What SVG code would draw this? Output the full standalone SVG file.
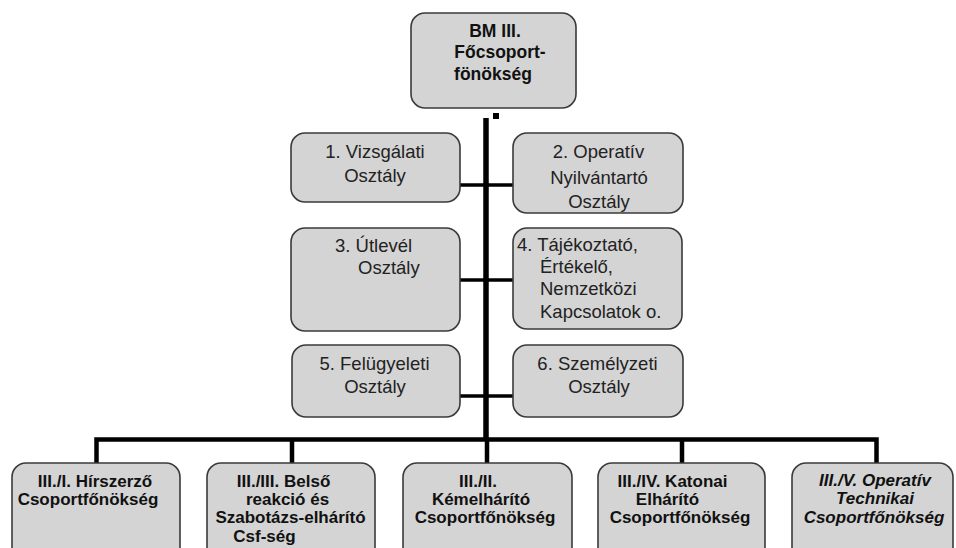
<svg xmlns="http://www.w3.org/2000/svg" width="956" height="548" viewBox="0 0 956 548">
<style>
.box{fill:#d4d4d4;stroke:#3a3a3a;stroke-width:1.6}
.t{font-family:"Liberation Sans",Arial,sans-serif;font-size:18.5px;fill:#222}
.b{font-family:"Liberation Sans",Arial,sans-serif;font-size:17px;font-weight:bold;fill:#111}
.c{text-anchor:middle}
.ln{stroke:#000;fill:none}
</style>
<rect width="956" height="548" fill="#fff"/>
<g id="connectors">
<rect x="493" y="113" width="6" height="6" fill="#000"/>
<line class="ln" x1="486" y1="118" x2="486" y2="440" stroke-width="5.5"/>
<line class="ln" x1="460" y1="185" x2="513" y2="185" stroke-width="3.5"/>
<line class="ln" x1="460" y1="280" x2="513" y2="280" stroke-width="3.5"/>
<line class="ln" x1="460" y1="396" x2="513" y2="396" stroke-width="3.5"/>
<polyline class="ln" points="96.5,464 96.5,439.5 876.5,439.5 876.5,464" stroke-width="4.5"/>
<line class="ln" x1="292" y1="439" x2="292" y2="465" stroke-width="4.5"/>
<line class="ln" x1="487" y1="439" x2="487" y2="465" stroke-width="4.5"/>
<line class="ln" x1="682" y1="439" x2="682" y2="465" stroke-width="4.5"/>
</g>
<g id="top">
<rect class="box" x="411" y="13" width="165" height="95" rx="14"/>
<text class="b c" x="495" y="37" style="font-size:17.5px">BM III.</text>
<text class="b c" x="500" y="58" style="font-size:17.5px">Főcsoport-</text>
<text class="b c" x="493" y="80" style="font-size:17.5px">fönökség</text>
</g>
<g id="n1">
<rect class="box" x="291" y="133" width="169" height="69" rx="14"/>
<text class="t c" x="375" y="158">1. Vizsgálati</text>
<text class="t c" x="375" y="182">Osztály</text>
</g>
<g id="n2">
<rect class="box" x="513" y="133" width="170" height="80" rx="14"/>
<text class="t c" x="598.5" y="158">2. Operatív</text>
<text class="t c" x="599" y="184">Nyilvántartó</text>
<text class="t c" x="599" y="208">Osztály</text>
</g>
<g id="n3">
<rect class="box" x="291" y="228" width="169" height="103" rx="14"/>
<text class="t" x="335" y="252">3. Útlevél</text>
<text class="t" x="358" y="274">Osztály</text>
</g>
<g id="n4">
<rect class="box" x="513" y="228" width="169" height="101" rx="14"/>
<text class="t" x="517" y="251">4. Tájékoztató,</text>
<text class="t" x="540" y="273">Értékelő,</text>
<text class="t" x="540" y="295">Nemzetközi</text>
<text class="t" x="540" y="318">Kapcsolatok o.</text>
</g>
<g id="n5">
<rect class="box" x="292" y="345" width="168" height="72" rx="14"/>
<text class="t c" x="374.5" y="370">5. Felügyeleti</text>
<text class="t c" x="375" y="393">Osztály</text>
</g>
<g id="n6">
<rect class="box" x="513" y="345" width="170" height="72" rx="14"/>
<text class="t c" x="597.5" y="370">6. Személyzeti</text>
<text class="t c" x="599" y="393">Osztály</text>
</g>
<g id="b1">
<rect class="box" x="12" y="463" width="168" height="100" rx="14"/>
<text class="b c" x="95" y="487">III./I. Hírszerző</text>
<text class="b c" x="88" y="505">Csoportfőnökség</text>
</g>
<g id="b2">
<rect class="box" x="207" y="463" width="168" height="100" rx="14"/>
<text class="b c" x="283.5" y="487">III./III. Belső</text>
<text class="b c" x="287.5" y="505">reakció és</text>
<text class="b c" x="290.5" y="523">Szabotázs-elhárító</text>
<text class="b c" x="264.5" y="542">Csf-ség</text>
</g>
<g id="b3">
<rect class="box" x="403" y="463" width="169" height="100" rx="14"/>
<text class="b c" x="478" y="487">III./II.</text>
<text class="b c" x="481" y="505">Kémelhárító</text>
<text class="b c" x="485" y="523">Csoportfőnökség</text>
</g>
<g id="b4">
<rect class="box" x="598" y="463" width="167" height="100" rx="14"/>
<text class="b c" x="672.5" y="487">III./IV. Katonai</text>
<text class="b c" x="667.5" y="505">Elhárító</text>
<text class="b c" x="680" y="523">Csoportfőnökség</text>
</g>
<g id="b5">
<rect class="box" x="792" y="463" width="161" height="100" rx="14"/>
<text class="b c" x="875" y="486" font-style="italic">III./V. Operatív</text>
<text class="b c" x="875" y="504" font-style="italic">Technikai</text>
<text class="b c" x="874" y="523" font-style="italic">Csoportfőnökség</text>
</g>
</svg>
